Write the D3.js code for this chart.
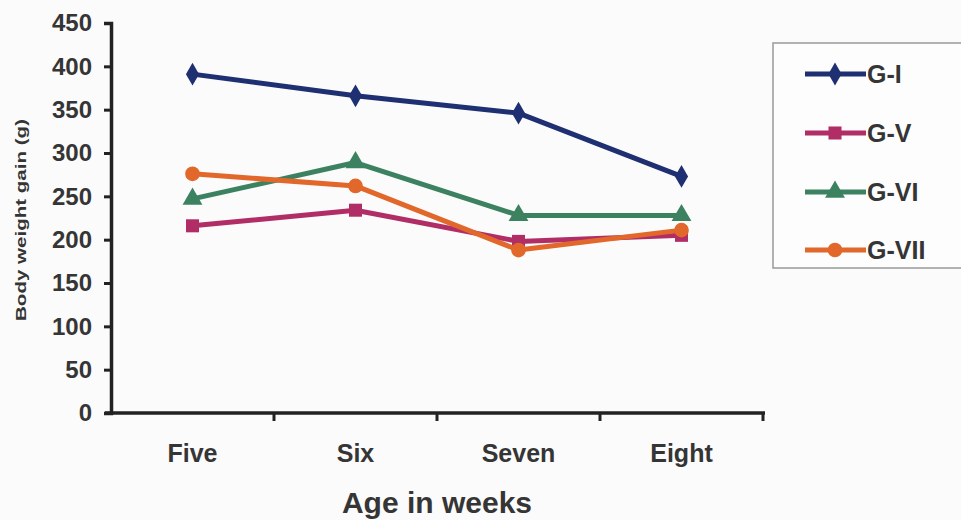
<!DOCTYPE html>
<html>
<head>
<meta charset="utf-8">
<script src="https://cdn.jsdelivr.net/npm/d3@7"></script>
<style>
  html, body { margin: 0; padding: 0; background: #fbfbfb; }
  svg { display: block; font-family: "Liberation Sans", Arial, sans-serif; }
</style>
</head>
<body>
<svg id="chart" width="961" height="520"></svg>
<script>
// Body weight gain by age, per group
const weeks = ["Five", "Six", "Seven", "Eight"];
const groups = ["G-I", "G-V", "G-VI", "G-VII"];
const gI   = [391, 366, 346, 273];
const gV   = [216, 234, 198, 205];
const gVI  = [247, 289, 228, 228];
const gVII = [276, 262, 188, 211];
const yTicks = [0, 50, 100, 150, 200, 250, 300, 350, 400, 450];

const colors = ["#1e2f72", "#b02d66", "#3d8260", "#e2672b"];
const shapes = [d3.symbolDiamond, d3.symbolSquare, d3.symbolTriangle, d3.symbolCircle];
const seriesValues = [gI, gV, gVI, gVII];
const textColor = "#353535";

const svg = d3.select("#chart");
const plot = { left: 111, right: 763, top: 23, bottom: 413 };

const x = d3.scaleBand().domain(weeks).range([plot.left, plot.right]);
const y = d3.scaleLinear().domain([0, 450]).range([plot.bottom, plot.top]);

// Y axis
const yAxis = svg.append("g").attr("transform", `translate(${plot.left},0)`)
  .call(d3.axisLeft(y).tickValues(yTicks).tickSize(7).tickPadding(12));
yAxis.select(".domain").attr("stroke", "#222").attr("stroke-width", 3.5);
yAxis.selectAll(".tick line").attr("stroke", "#222").attr("stroke-width", 3);
yAxis.selectAll(".tick text").attr("fill", textColor).attr("font-size", 24)
  .attr("font-weight", "bold");

// X axis with ticks at category boundaries
const xAxis = svg.append("g").attr("transform", `translate(0,${plot.bottom})`);
xAxis.append("line").attr("x1", plot.left - 6).attr("x2", plot.right + 2)
  .attr("stroke", "#222").attr("stroke-width", 3.5);
const edges = weeks.map(w => x(w) + x.bandwidth());
xAxis.selectAll("line.edge").data(edges).join("line").attr("class", "edge")
  .attr("x1", d => d).attr("x2", d => d).attr("y1", 0).attr("y2", 8)
  .attr("stroke", "#222").attr("stroke-width", 3);
xAxis.selectAll("text").data(weeks).join("text")
  .attr("x", d => x(d) + x.bandwidth() / 2).attr("y", 49)
  .attr("text-anchor", "middle").attr("fill", textColor)
  .attr("font-size", 25).attr("font-weight", "bold").text(d => d);

// Axis titles
svg.append("text").attr("x", 437).attr("y", 513).attr("text-anchor", "middle")
  .attr("fill", textColor).attr("font-size", 30).attr("font-weight", "bold")
  .text("Age in weeks");
svg.append("text")
  .attr("transform", "translate(26,220) rotate(-90)")
  .attr("text-anchor", "middle").attr("fill", textColor)
  .attr("font-size", 15).attr("font-weight", "bold")
  .attr("textLength", 202).attr("lengthAdjust", "spacingAndGlyphs")
  .text("Body weight gain (g)");

// Series lines and markers
const line = d3.line().x((d, i) => x(weeks[i]) + x.bandwidth() / 2).y(d => y(d));
groups.forEach((g, k) => {
  const vals = seriesValues[k];
  svg.append("path").datum(vals).attr("d", line).attr("fill", "none")
    .attr("stroke", colors[k]).attr("stroke-width", 5).attr("stroke-linejoin", "round");
  svg.selectAll(null).data(vals).join("path")
    .attr("transform", (d, i) => `translate(${x(weeks[i]) + x.bandwidth() / 2},${y(d)})`)
    .attr("d", d3.symbol().type(shapes[k]).size(k === 0 ? 150 : 170))
    .attr("fill", colors[k]);
});

// Legend
const legend = svg.append("g");
legend.append("rect").attr("x", 773).attr("y", 43).attr("width", 200).attr("height", 225)
  .attr("fill", "#fdfdfd").attr("stroke", "#999").attr("stroke-width", 1.5);
const legY = [74, 133, 192, 250];
groups.forEach((g, k) => {
  legend.append("line").attr("x1", 805).attr("x2", 866).attr("y1", legY[k]).attr("y2", legY[k])
    .attr("stroke", colors[k]).attr("stroke-width", 5);
  legend.append("path").attr("transform", `translate(835,${legY[k]})`)
    .attr("d", d3.symbol().type(shapes[k]).size(k === 0 ? 150 : 170)).attr("fill", colors[k]);
  legend.append("text").attr("x", 867).attr("y", legY[k]).attr("dy", "0.36em")
    .attr("fill", textColor).attr("font-size", 25).attr("font-weight", "bold").text(g);
});
</script>
</body>
</html>
